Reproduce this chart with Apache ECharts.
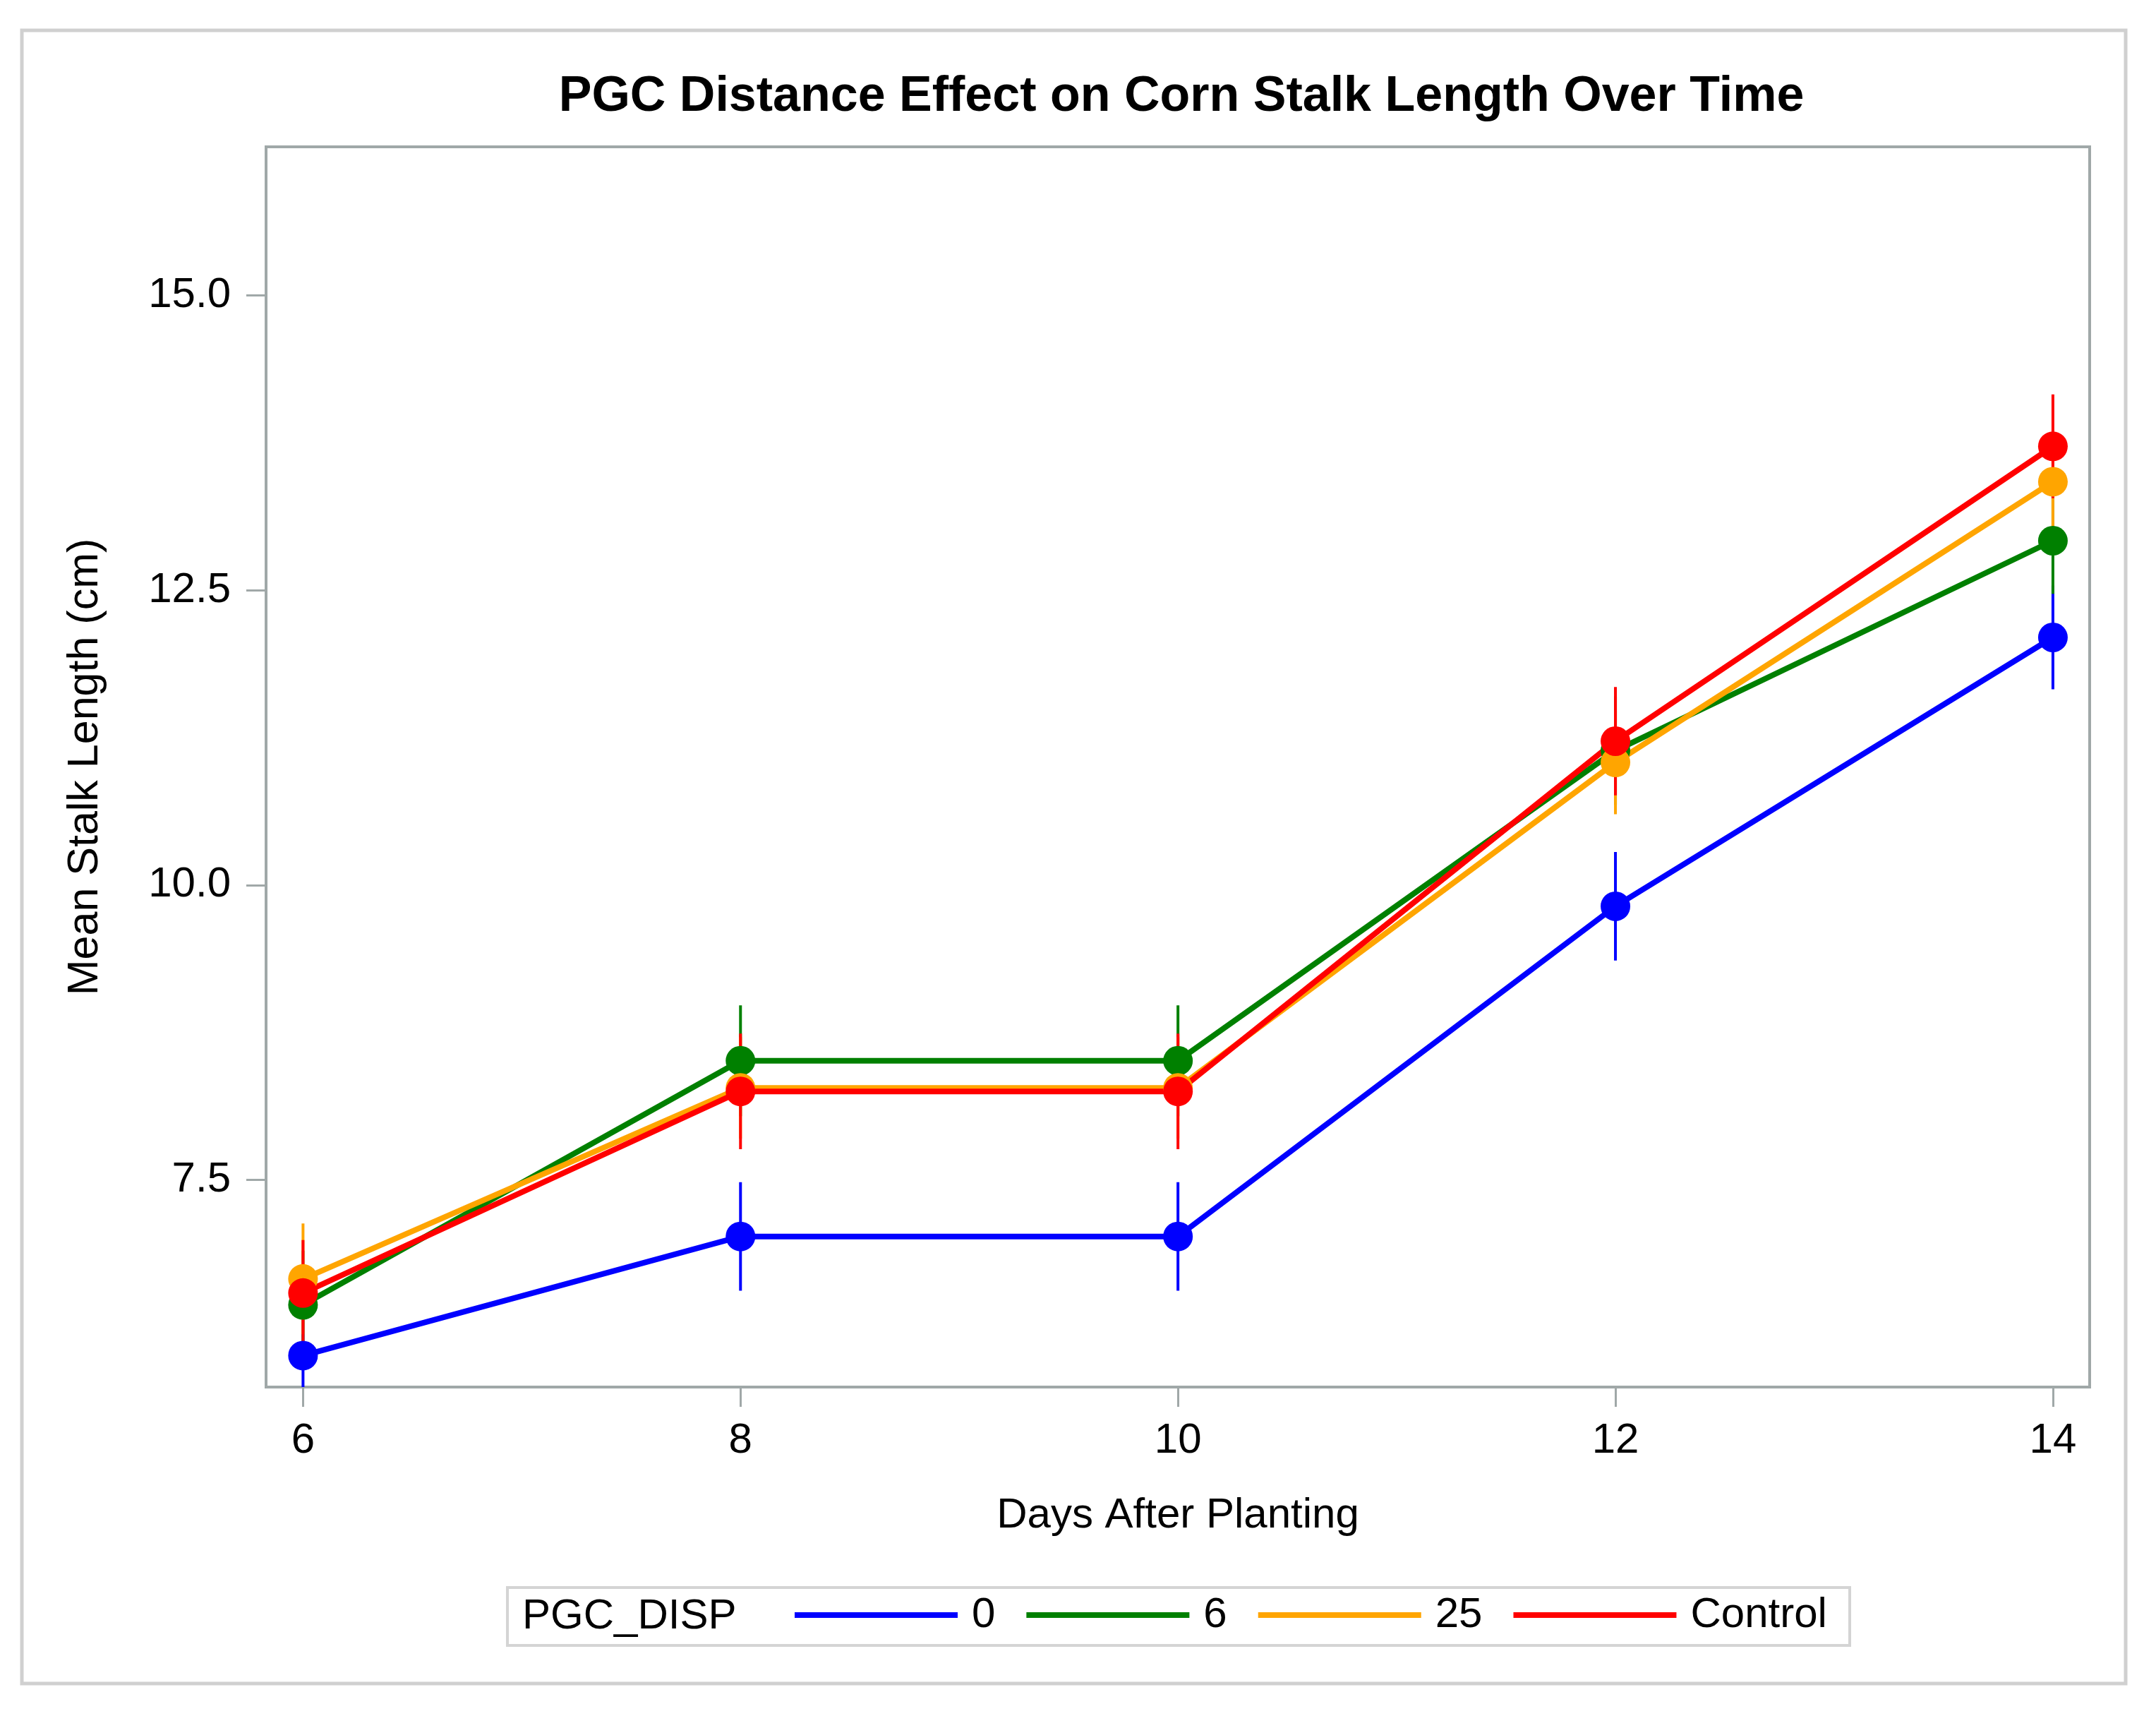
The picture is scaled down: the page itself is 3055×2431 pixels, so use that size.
<!DOCTYPE html>
<html>
<head>
<meta charset="utf-8">
<title>PGC Distance Effect on Corn Stalk Length Over Time</title>
<script src="https://cdn.jsdelivr.net/npm/echarts@6/dist/echarts.min.js"></script>
<style>
  html, body { margin: 0; padding: 0; background: #fff; }
  #main { width: 3055px; height: 2431px; }
</style>
</head>
<body>
<div id="main"></div>
<script>
// data
var days = [6, 8, 10, 12, 14];
var groups = ['0', '6', '25', 'Control'];
var colors = ['#0000ff', '#008000', '#ffa500', '#ff0000'];

var mean0 = [6.01, 7.02, 7.02, 9.82, 12.10];
var mean6 = [6.44, 8.51, 8.51, 11.14, 12.92];
var mean25 = [6.66, 8.28, 8.28, 11.04, 13.42];
var meanCtl = [6.54, 8.25, 8.25, 11.22, 13.72];

var err0 = [0.46, 0.46, 0.46, 0.46, 0.44];
var err6 = [0.46, 0.47, 0.47, 0.46, 0.45];
var err25 = [0.47, 0.43, 0.43, 0.44, 0.44];
var errCtl = [0.45, 0.49, 0.49, 0.46, 0.44];

var xTicks = [6, 8, 10, 12, 14];
var yTicks = [7.5, 10, 12.5, 15];

var means = [mean0, mean6, mean25, meanCtl];
var errs = [err0, err6, err25, errCtl];

var font = '"Liberation Sans", Arial, sans-serif';
var frameColor = '#a0a8a8';

var myChart = echarts.init(document.getElementById('main'));

function errorBars(idx) {
    return {
        type: 'custom',
        name: groups[idx] + ' limits',
        z: 2,
        silent: true,
        itemStyle: { color: colors[idx] },
        data: days.map(function (d, i) {
            return [d, means[idx][i], errs[idx][i]];
        }),
        renderItem: function (params, api) {
            var x = api.value(0), m = api.value(1), e = api.value(2);
            var top = api.coord([x, m + e]);
            var bot = api.coord([x, m - e]);
            var cs = params.coordSys;
            // keep the bar inside the plot frame
            var y1 = Math.max(top[1], cs.y);
            var y2 = Math.min(bot[1], cs.y + cs.height);
            return {
                type: 'line',
                shape: { x1: top[0], y1: y1, x2: bot[0], y2: y2 },
                style: { stroke: colors[idx], lineWidth: 4 }
            };
        }
    };
}

function meanLine(idx) {
    return {
        type: 'line',
        name: groups[idx],
        z: 3,
        data: days.map(function (d, i) { return [d, means[idx][i]]; }),
        symbol: 'circle',
        symbolSize: 42,
        itemStyle: { color: colors[idx] },
        lineStyle: { color: colors[idx], width: 8 },
        emphasis: { disabled: true },
        animation: false
    };
}

var series = [];
groups.forEach(function (g, i) { series.push(errorBars(i)); });
groups.forEach(function (g, i) { series.push(meanLine(i)); });

var option = {
    backgroundColor: '#fff',
    animation: false,
    title: {
        text: 'PGC Distance Effect on Corn Stalk Length Over Time',
        left: 1669,
        top: 98,
        textAlign: 'center',
        textStyle: { fontFamily: font, fontSize: 70, fontWeight: 'bold', color: '#000' }
    },
    grid: {
        left: 377,
        top: 208,
        width: 2584,
        height: 1757,
        show: true,
        borderColor: frameColor,
        borderWidth: 4,
        backgroundColor: '#fff'
    },
    xAxis: {
        type: 'value',
        min: 5.831,
        max: 14.168,
        name: 'Days After Planting',
        nameLocation: 'middle',
        nameGap: 152,
        nameTextStyle: { fontFamily: font, fontSize: 60, color: '#000' },
        axisLine: { show: true, onZero: false, lineStyle: { color: frameColor, width: 4 } },
        axisTick: { show: true, customValues: xTicks, length: 28, lineStyle: { color: frameColor, width: 3 } },
        axisLabel: {
            customValues: xTicks,
            margin: 46,
            fontFamily: font, fontSize: 60, color: '#000'
        },
        splitLine: { show: false }
    },
    yAxis: {
        type: 'value',
        min: 5.743,
        max: 16.26,
        name: 'Mean Stalk Length (cm)',
        nameLocation: 'middle',
        nameGap: 225,
        nameTextStyle: { fontFamily: font, fontSize: 61, color: '#000' },
        axisLine: { show: true, onZero: false, lineStyle: { color: frameColor, width: 4 } },
        axisTick: { show: true, customValues: yTicks, length: 28, lineStyle: { color: frameColor, width: 3 } },
        axisLabel: {
            customValues: yTicks,
            margin: 50,
            formatter: function (v) { return v.toFixed(1); },
            fontFamily: font, fontSize: 60, color: '#000'
        },
        splitLine: { show: false }
    },
    legend: {
        data: groups.map(function (g) { return { name: g, icon: 'rect' }; }),
        left: 1126,
        top: 2258,
        padding: 0,
        itemWidth: 231,
        itemHeight: 8,
        itemGap: 44,
        selectedMode: false,
        textStyle: { fontFamily: font, fontSize: 60, color: '#000', padding: [0, 0, 0, 15] }
    },
    graphic: [
        {
            type: 'rect',
            z: -10,
            shape: { x: 31, y: 43, width: 2981, height: 2342 },
            style: { fill: 'none', stroke: '#d0d0d0', lineWidth: 5 }
        },
        {
            type: 'rect',
            z: -5,
            shape: { x: 719, y: 2249, width: 1902, height: 82 },
            style: { fill: '#fff', stroke: '#d4d4d4', lineWidth: 4 }
        },
        {
            type: 'text',
            z: 5,
            x: 740,
            y: 2290,
            style: {
                text: 'PGC_DISP',
                fontFamily: font, fontSize: 60, fill: '#000',
                verticalAlign: 'middle'
            }
        }
    ],
    series: series
};

myChart.setOption(option);
</script>
</body>
</html>
